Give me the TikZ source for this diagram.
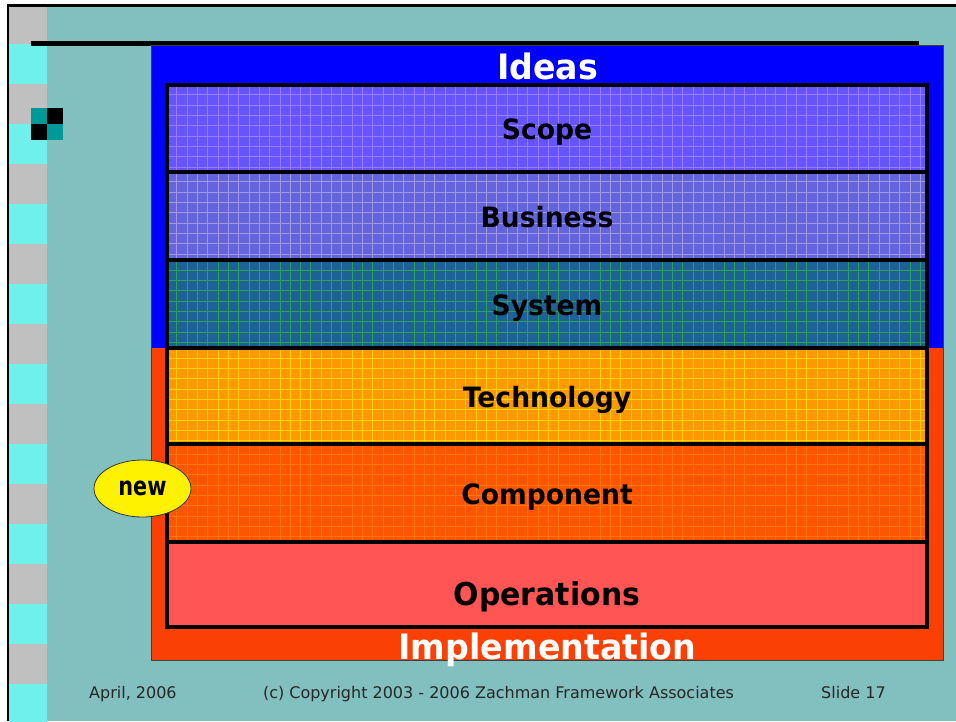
\documentclass[tikz,border=0pt]{standalone}
\usepackage{fontspec}
\setmainfont{DejaVu Sans}
\newfontfamily\layerfont[FakeStretch=0.95]{DejaVu Sans}
\newfontfamily\tagfont[FakeStretch=0.8]{DejaVu Sans}
\usetikzlibrary{positioning}
\usetikzlibrary{shapes.geometric}

\definecolor{slidebg}{RGB}{130,192,192}
\definecolor{stripegray}{RGB}{192,192,192}
\definecolor{stripecyan}{RGB}{112,240,236}
\definecolor{iconteal}{RGB}{0,153,153}
\definecolor{ideasblue}{RGB}{0,0,255}
\definecolor{implred}{RGB}{250,64,5}
\definecolor{scopefill}{RGB}{102,84,255}
\definecolor{scopegrid}{RGB}{150,125,255}
\definecolor{busfill}{RGB}{100,100,222}
\definecolor{busgrid}{RGB}{160,155,222}
\definecolor{sysfill}{RGB}{28,98,150}
\definecolor{sysgrid}{RGB}{45,160,85}
\definecolor{techfill}{RGB}{255,153,0}
\definecolor{techgrid}{RGB}{255,210,0}
\definecolor{compfill}{RGB}{255,85,0}
\definecolor{compgrid}{RGB}{255,118,10}
\definecolor{opsfill}{RGB}{255,85,85}

\tikzset{
  layerlabel/.style={anchor=base,inner sep=0,font=\layerfont\bfseries\fontsize{28}{28}\selectfont},
  titlelabel/.style={anchor=base,inner sep=0,text=white,font=\layerfont\bfseries\fontsize{35}{35}\selectfont},
  footerlabel/.style={anchor=base,inner sep=0,text=black!85,font=\fontsize{16}{16}\selectfont},
  gridline/.style={line width=1}
}

\begin{document}
\begin{tikzpicture}[x=1pt,y=-1pt]
	\useasboundingbox (0,0) rectangle (956,721);
	\fill[white] (0,0) rectangle (956,721);
	\fill[slidebg] (8,5.3) rectangle (956,721);
	\fill[stripegray] (9.3,6.5) rectangle (47,721);
	\foreach \sy in {44,124,...,684}
		\fill[stripecyan] (9.3,\sy) rectangle (47,{\sy+40});
	\draw[line width=2.5] (8,721)--(8,5.3)--(956,5.3);
	\fill[iconteal] (31,108) rectangle (47,124);
	\fill[black] (47,108) rectangle (63,124);
	\fill[black] (31,124) rectangle (47,140);
	\fill[iconteal] (47,124) rectangle (63,140);
	\draw[line width=5] (31,43.5)--(919,43.5);
	\fill[ideasblue] (151,45) rectangle (943,348);
	\fill[implred] (151,348) rectangle (943,660);
	\draw[black!75,line width=1] (151,45) rectangle (943,660);
	\foreach \ly/\lb/\lf/\lg in {84.5/171.5/scopefill/scopegrid,171.5/260/busfill/busgrid,260/348/sysfill/sysgrid,348/444/techfill/techgrid,444/541.5/compfill/compgrid}{
		\fill[\lf] (167,\ly) rectangle (927,\lb);
		\begin{scope}
			\clip (167,\ly) rectangle (927,\lb);
			\foreach \gx in {176.7,187.03,...,927}
				\draw[\lg,gridline] (\gx,\ly)--(\gx,\lb);
			\foreach \gy in {1,...,9}
				\draw[\lg,gridline] (167,{\ly+\gy*10.33})--(927,{\ly+\gy*10.33});
		\end{scope}
	}
	\fill[opsfill] (167,541.5) rectangle (927,627);
	\draw[line width=4] (167,84.5) rectangle (927,627);
	\foreach \dy in {171.5,260,348,444,541.5}
		\draw[line width=4] (167,\dy)--(927,\dy);
	\node[titlelabel] (ideas) at (547.5,79.3) {Ideas};
	\node[layerlabel] (scope) at (547,139.3) {Scope};
	\node[layerlabel] (business) at (547,227.3) {Business};
	\node[layerlabel] (system) at (547,315) {System};
	\node[layerlabel] (technology) at (547,407.3) {Technology};
	\node[layerlabel] (component) at (547,504) {Component};
	\node[layerlabel,font=\layerfont\bfseries\fontsize{31.5}{31.5}\selectfont] (operations) at (547,605) {Operations};
	\node[titlelabel] (implementation) at (547.5,659) {Implementation};
	\node[draw=black!80,ellipse,fill=yellow,line width=0.8,minimum width=97,minimum height=57,inner sep=0,font=\tagfont\bfseries\fontsize{26}{26}\selectfont] (new) at (142.5,488.5) {new};
	\node[footerlabel,anchor=base west] (date) at (89,698) {April, 2006};
	\node[footerlabel] (copyright) at (498.5,698) {(c) Copyright 2003 - 2006 Zachman Framework Associates};
	\node[footerlabel,anchor=base west] (slide) at (821,698) {Slide 17};
\end{tikzpicture}
\end{document}
